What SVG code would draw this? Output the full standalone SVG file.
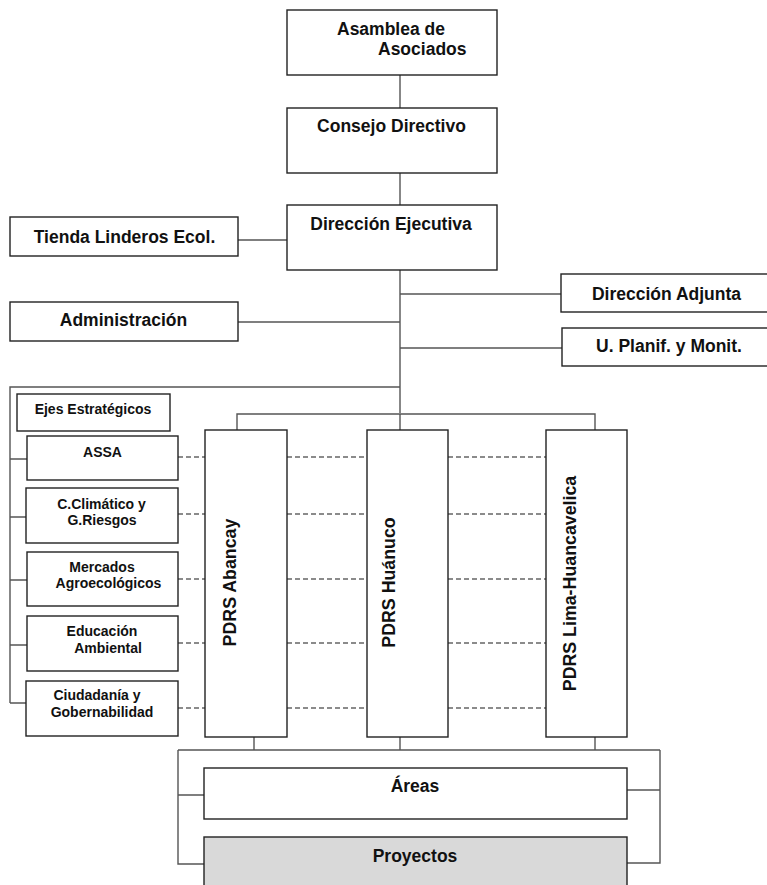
<svg xmlns="http://www.w3.org/2000/svg" width="767" height="885" viewBox="0 0 767 885">
<style>
.box{fill:#fff;stroke:#222;stroke-width:1.4}
.grey{fill:#d9d9d9;stroke:#222;stroke-width:1.4}
.ln{fill:none;stroke:#555;stroke-width:1.4}
.dash{fill:none;stroke:#666;stroke-width:1.4;stroke-dasharray:5,3}
.t{font-family:"Liberation Sans",Arial,sans-serif;font-weight:bold;font-size:17.5px;fill:#111}
.m{text-anchor:middle}
.s{font-family:"Liberation Sans",Arial,sans-serif;font-weight:bold;font-size:14px;fill:#111;text-anchor:middle}
.v{font-family:"Liberation Sans",Arial,sans-serif;font-weight:bold;font-size:17.8px;fill:#111;text-anchor:middle}
</style>
<rect width="767" height="885" fill="#fff"/>
<g id="connectors">
<path class="ln" d="M400 75V108M400 173V205M400 270V413M238 240H287M238 322H400M400 294H561M400 348H562M400 387H10V703M10 459H27M10 517H26M10 580H27M10 645H27M10 703H26M237 430V414H595V430M400 414V430"/>
<path class="dash" d="M178 457H205M287 457H367M448 457H546M178 514H205M287 514H367M448 514H546M178 579H205M287 579H367M448 579H546M178 643H205M287 643H367M448 643H546M178 708H205M287 708H367M448 708H546"/>
<path class="ln" d="M254 737V750M400 737V750M595 737V750M178 750H660M178 750V864H204M178 795H204M660 750V863H627M660 790H627"/>
</g>
<g id="asamblea"><rect class="box" x="287" y="10" width="210" height="65"/><text class="t" x="337" y="35">Asamblea de</text><text class="t" x="378" y="55">Asociados</text></g>
<g id="consejo"><rect class="box" x="287" y="108" width="210" height="65"/><text class="t m" x="391.5" y="132">Consejo Directivo</text></g>
<g id="direccion-ejecutiva"><rect class="box" x="287" y="205" width="210" height="65"/><text class="t m" x="391" y="230">Dirección Ejecutiva</text></g>
<g id="tienda"><rect class="box" x="10" y="217" width="228" height="39"/><text class="t m" x="124.5" y="243">Tienda Linderos Ecol.</text></g>
<g id="administracion"><rect class="box" x="10" y="302" width="228" height="39"/><text class="t m" x="123.5" y="326">Administración</text></g>
<g id="direccion-adjunta"><rect class="box" x="561" y="274" width="210" height="38"/><text class="t m" x="666.5" y="300">Dirección Adjunta</text></g>
<g id="planif"><rect class="box" x="562" y="328" width="210" height="38"/><text class="t m" x="669" y="352">U. Planif. y Monit.</text></g>
<g id="ejes"><rect class="box" x="17" y="394" width="153" height="37"/><text class="s" x="93" y="414">Ejes Estratégicos</text></g>
<g id="assa"><rect class="box" x="27" y="436" width="151" height="44"/><text class="s" x="102.5" y="457">ASSA</text></g>
<g id="cclimatico"><rect class="box" x="26" y="488" width="152" height="55"/><text class="s" x="101.5" y="509">C.Climático y</text><text class="s" x="102" y="525">G.Riesgos</text></g>
<g id="mercados"><rect class="box" x="27" y="552" width="151" height="54"/><text class="s" x="102" y="572">Mercados</text><text class="s" x="108.5" y="588">Agroecológicos</text></g>
<g id="educacion"><rect class="box" x="27" y="616" width="151" height="55"/><text class="s" x="102" y="636">Educación</text><text class="s" x="108" y="653">Ambiental</text></g>
<g id="ciudadania"><rect class="box" x="26" y="681" width="152" height="55"/><text class="s" x="97" y="700">Ciudadanía y</text><text class="s" x="102" y="717">Gobernabilidad</text></g>
<g id="pdrs-abancay"><rect class="box" x="205" y="430" width="82" height="307"/><text class="v" transform="translate(236 582.5) rotate(-90)">PDRS Abancay</text></g>
<g id="pdrs-huanuco"><rect class="box" x="367" y="430" width="81" height="307"/><text class="v" transform="translate(395 582.5) rotate(-90)">PDRS Huánuco</text></g>
<g id="pdrs-lima"><rect class="box" x="546" y="430" width="81" height="307"/><text class="v" transform="translate(576 583.5) rotate(-90)">PDRS Lima-Huancavelica</text></g>
<g id="areas"><rect class="box" x="204" y="768" width="423" height="51"/><text class="t m" x="415" y="792">Áreas</text></g>
<g id="proyectos"><rect class="grey" x="204" y="837" width="423" height="60"/><text class="t m" x="415" y="862">Proyectos</text></g>
</svg>
